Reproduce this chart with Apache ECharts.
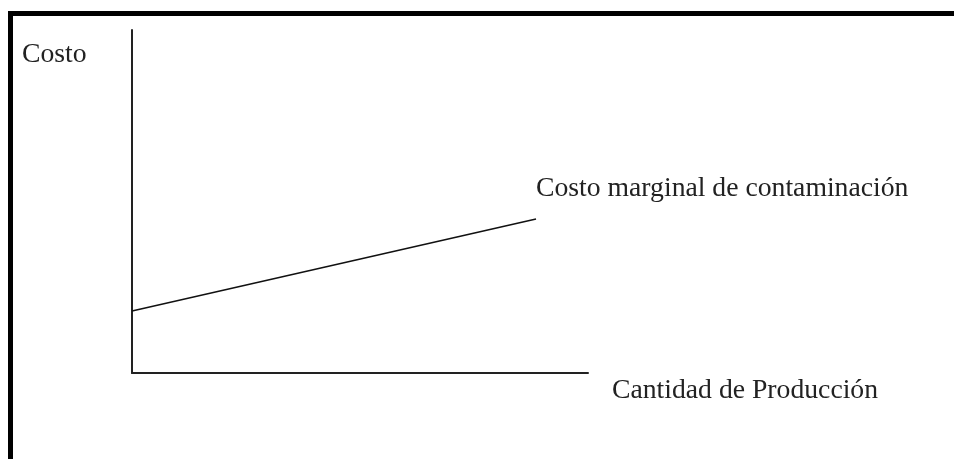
<!DOCTYPE html>
<html style="height: 100%">
<head>
    <meta charset="utf-8">
    <script src="https://cdn.jsdelivr.net/npm/echarts@6/dist/echarts.min.js"></script>
</head>
<body style="height: 100%; margin: 0; background: #fff">
<div id="container" style="width: 954px; height: 459px"></div>

<script type="text/javascript">
    // quantity (x) and marginal pollution cost (y), both on a 0-100 scale
    var cantidad = [0, 88.6];
    var costoMarginal = [18.1, 44.9];
    var ejeY = 'Costo';
    var ejeX = 'Cantidad de Producción';
    var nombreCurva = 'Costo marginal de contaminación';

    var myChart = echarts.init(document.getElementById('container'));

    var puntos = [];
    for (var i = 0; i < cantidad.length; i++) {
        puntos.push([cantidad[i], costoMarginal[i]]);
    }

    var fuente = '"Liberation Serif", "Times New Roman", serif';

    option = {
        animation: false,
        backgroundColor: '#fff',
        grid: {left: 132, top: 30, right: 366, bottom: 86},
        xAxis: {
            type: 'value',
            min: 0,
            max: 100,
            axisLine: {show: true, onZero: false, lineStyle: {color: '#222', width: 2}},
            axisTick: {show: false},
            axisLabel: {show: false},
            splitLine: {show: false}
        },
        yAxis: {
            type: 'value',
            min: 0,
            max: 100,
            axisLine: {show: true, onZero: false, lineStyle: {color: '#222', width: 2}},
            axisTick: {show: false},
            axisLabel: {show: false},
            splitLine: {show: false}
        },
        series: [{
            type: 'line',
            data: puntos,
            showSymbol: false,
            lineStyle: {color: '#111', width: 1.5}
        }],
        graphic: [
            // frame bars
            {type: 'rect', shape: {x: 8, y: 11, width: 946, height: 5}, style: {fill: '#000'}},
            {type: 'rect', shape: {x: 8, y: 11, width: 5, height: 448}, style: {fill: '#000'}},
            {type: 'text', style: {text: ejeY, x: 22, y: 55, verticalAlign: 'middle', font: '27.7px ' + fuente, fill: '#222'}},
            {type: 'text', style: {text: nombreCurva, x: 536, y: 189, verticalAlign: 'middle', font: '27.7px ' + fuente, fill: '#222'}},
            {type: 'text', style: {text: ejeX, x: 612, y: 391, verticalAlign: 'middle', font: '27.7px ' + fuente, fill: '#222'}}
        ]
    };

    myChart.setOption(option);
</script>
</body>
</html>
